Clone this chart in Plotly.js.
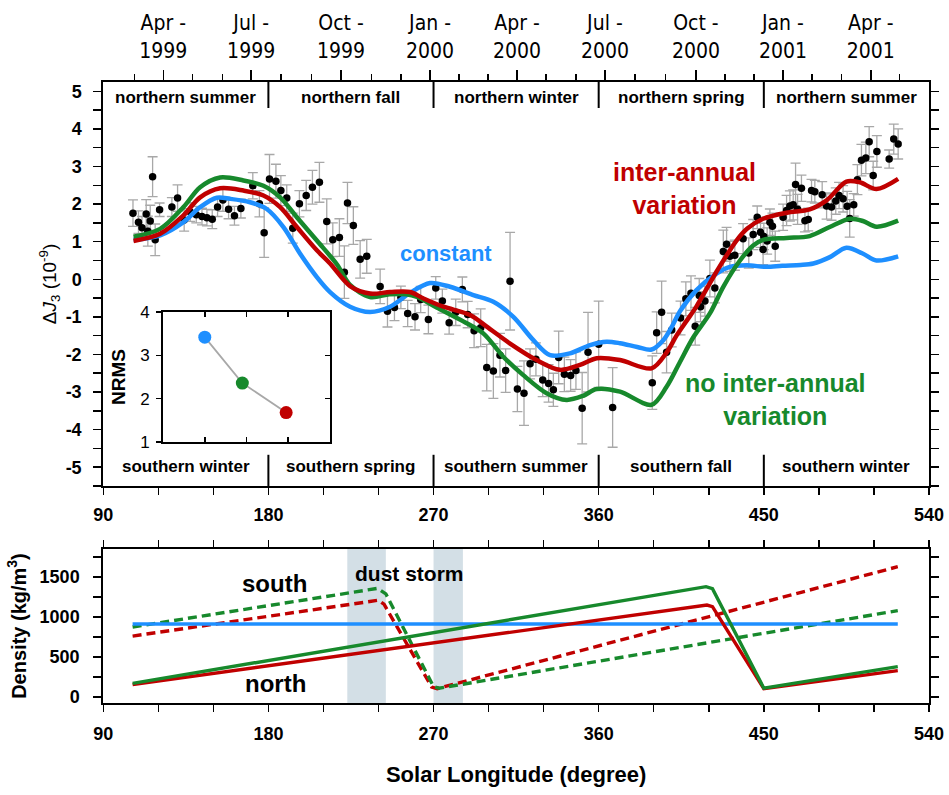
<!DOCTYPE html>
<html><head><meta charset="utf-8">
<script src="https://cdn.plot.ly/plotly-3.0.1.min.js"></script>
<style>html,body{margin:0;padding:0;background:#fff}</style>
</head><body><div id="chart" style="width:949px;height:795px"></div>
<script>
// ---------- DATA ----------
// Observed ΔJ3 (1e-9) vs solar longitude
const LS_OBS = [106.2,109.2,111.1,113.4,114.3,115.6,116.9,118.3,120.7,127.4,130.5,134.1,137.4,140.7,143.8,146.5,149.4,152.3,155.2,158.3,161.5,165.0,171.5,175.1,177.7,180.6,184.1,186.8,190.0,193.3,196.9,200.6,204.0,207.8,211.8,215.1,218.7,221.4,223.1,226.3,230.0,233.6,240.9,244.9,248.7,252.2,255.9,259.9,263.0,267.2,271.2,274.8,278.5,282.1,285.7,288.6,292.1,295.7,299.0,302.6,306.2,309.3,311.7,315.7,319.3,322.6,325.8,329.5,332.7,335.3,338.2,341.3,344.7,347.6,351.0,354.2,360.0,367.6,389.2,391.6,394.3,397.0,399.8,404.6,407.5,410.3,412.6,414.8,415.5,417.9,420.6,423.3,427.9,429.7,431.5,434.2,438.7,441.8,444.2,446.4,448.2,449.6,450.0,451.8,453.3,454.7,456.2,460.5,462.4,464.2,466.0,467.3,468.4,470.5,472.4,474.2,476.0,477.8,481.8,484.2,486.9,489.2,491.0,493.2,495.4,496.8,499.0,501.0,503.2,505.6,507.4,509.6,511.6,518.3,520.8,523.2];
const J3_OBS = [1.76,1.52,1.37,1.74,1.28,1.55,2.73,1.05,1.85,1.92,2.16,1.58,1.79,1.72,1.67,1.64,1.60,1.92,2.11,1.86,1.69,1.88,2.49,2.01,1.24,2.67,2.61,2.36,2.16,1.36,2.01,2.23,2.45,2.58,1.54,1.05,1.11,0.19,2.03,1.43,0.53,0.61,-0.19,-0.85,-0.75,-0.48,-0.91,-1.00,-0.54,-1.07,-0.23,-0.58,-1.16,-0.88,-0.27,-0.94,-1.37,-1.29,-2.35,-2.44,-2.02,-2.43,-0.05,-2.92,-3.03,-2.25,-2.13,-2.68,-2.77,-2.94,-2.08,-2.53,-2.56,-2.43,-3.43,-1.94,-1.73,-3.41,-2.75,-1.42,-0.88,-1.94,-1.35,-1.03,-0.52,-0.37,-1.25,-0.43,-0.73,-0.58,0.02,-0.23,0.74,0.93,0.61,0.64,1.08,0.70,1.19,1.65,1.25,0.79,1.14,1.02,1.52,1.41,0.88,1.65,1.83,1.95,1.98,2.52,1.86,2.42,1.56,1.59,2.36,2.33,2.25,1.95,1.92,2.08,2.23,2.14,1.94,1.62,1.98,2.65,3.17,3.23,3.66,2.76,3.40,3.20,3.73,3.60];
const J3_ERR = [0.35,0.30,0.30,0.38,0.40,0.42,0.53,0.42,0.18,0.25,0.35,0.30,0.25,0.22,0.22,0.22,0.25,0.25,0.30,0.25,0.25,0.25,0.35,0.35,0.66,0.65,0.45,0.40,0.35,0.40,0.35,0.40,0.45,0.53,0.60,0.45,0.50,0.70,0.55,0.50,0.50,0.45,0.46,0.42,0.35,0.30,0.35,0.35,0.35,0.38,0.30,0.32,0.30,0.35,0.33,0.35,0.45,0.50,0.62,0.73,0.58,0.58,1.30,0.60,0.86,0.40,0.44,0.44,0.50,0.44,0.70,0.46,0.42,0.50,0.95,1.06,1.15,1.06,0.71,0.55,0.83,0.55,0.45,0.45,0.45,0.46,0.50,0.45,0.40,0.40,0.49,0.40,0.57,0.45,0.40,0.40,0.40,0.40,0.40,0.30,0.40,0.40,0.35,0.35,0.35,0.35,0.40,0.35,0.40,0.40,0.40,0.57,0.40,0.35,0.30,0.30,0.30,0.30,0.35,0.35,0.35,0.35,0.35,0.35,0.40,0.50,0.30,0.40,0.42,0.42,0.40,0.38,0.42,0.24,0.40,0.40];

// Model curves
const LS_CONST = [106.5,121,133.7,142.8,151.9,159.2,170,179.1,188.2,197.3,206.4,213.6,224.5,235.4,246.3,257.2,268.1,279,291.7,302.6,313.5,324.4,333.5,344.4,355.3,364.3,371.6,381,388.8,395.2,400,404.3,413.3,424.2,431.5,440.6,451.5,460,470,477,486,495,504.1,511.4,523.2];
const J3_CONST = [1.05,1.17,1.52,1.92,2.17,2.14,2.05,1.87,1.39,0.68,0.06,-0.34,-0.73,-0.87,-0.73,-0.36,-0.10,-0.20,-0.42,-0.60,-1.00,-1.62,-2.02,-1.97,-1.75,-1.66,-1.70,-1.80,-1.87,-1.62,-1.25,-0.85,-0.29,0.15,0.33,0.37,0.33,0.36,0.38,0.42,0.59,0.84,0.68,0.50,0.61];
const LS_INTER = [106.5,121,133.7,142.8,153.7,166.4,177.3,186.4,195.5,206.4,213.6,224.5,235.4,246.3,257.2,264.5,275.4,289.9,299,311.7,326.2,338.9,349.8,358.9,371.6,388.8,397,402.4,408,413.3,424.2,435.1,441,449.6,462.4,475,484.2,495,502.3,511.4,523.2];
const J3_INTER = [1.02,1.21,1.70,2.18,2.42,2.36,2.23,1.92,1.39,0.77,0.42,-0.18,-0.38,-0.34,-0.34,-0.51,-0.73,-0.95,-1.26,-1.71,-2.15,-2.41,-2.28,-2.10,-2.15,-2.37,-1.95,-1.50,-1.10,-0.72,0.20,1.03,1.35,1.61,1.77,1.86,2.10,2.60,2.58,2.40,2.67];
const LS_NOINTER = [106.5,121,133.7,142.8,153.7,166.4,177.3,186.4,195.5,206.4,217.3,224.5,235.4,246,255,261,271.7,286.2,297.1,308,318.9,331.6,342.5,351.6,358.9,371.6,388.8,397,404.3,411.5,420.6,427.9,437,444.2,449.6,462.4,475,485.9,496.8,504,511.4,523.2];
const J3_NOINTER = [1.13,1.34,1.92,2.45,2.71,2.63,2.49,2.18,1.65,1.03,0.40,-0.15,-0.47,-0.40,-0.40,-0.47,-0.75,-1.12,-1.44,-2.06,-2.55,-3.03,-3.21,-3.10,-2.92,-2.99,-3.34,-2.86,-2.20,-1.55,-0.91,-0.20,0.50,0.90,1.05,1.10,1.15,1.39,1.61,1.55,1.40,1.56];

// Inset NRMS
const NRMS_X = [1, 1.9, 2.95];
const NRMS_Y = [3.42, 2.36, 1.68];

// Density models (kg/m^3)
const LS_DENS_CONST = [106, 523];
const DENS_CONST = [912, 912];
const LS_NORTH_INTER = [106, 416, 419, 422, 450, 523];
const DENS_NORTH_INTER = [155, 1140, 1150, 1130, 105, 330];
const LS_NORTH_NOINTER = [106, 415, 418.5, 422, 450, 523];
const DENS_NORTH_NOINTER = [170, 1365, 1380, 1355, 110, 380];
const LS_SOUTH_INTER = [106, 236, 240, 243, 269, 272, 523];
const DENS_SOUTH_INTER = [762, 1205, 1210, 1160, 125, 105, 1629];
const LS_SOUTH_NOINTER = [106, 237, 239.5, 244, 270, 273, 523];
const DENS_SOUTH_NOINTER = [875, 1350, 1358, 1290, 130, 110, 1080];
const DUST_STORMS = [[223, 244], [270, 286]];

// Tick labels
const LS_TICKS = [90, 180, 270, 360, 450, 540];
const J3_TICKS = [-5,-4,-3,-2,-1,0,1,2,3,4,5];
const J3_TICKTEXT = ['-5','-4','-3','-2','-1','0','1','2','3','4','5'];
const DENS_TICKS = [0, 500, 1000, 1500];
const NRMS_TICKS = [1, 2, 3, 4];
const DATE_LS = [122.7,170.6,219.6,268.1,315.5,363.4,413.0,460.4,508.3];
const DATE_LABELS = ['Apr -<br>1999','Jul -<br>1999','Oct -<br>1999','Jan -<br>2000','Apr -<br>2000','Jul -<br>2000','Oct -<br>2000','Jan -<br>2001','Apr -<br>2001'];
const DATE_MINOR_LS = [106.9,138.5,154.8,186.9,203.3,236.0,252.3,283.9,299.7,331.3,347.6,379.8,396.6,428.8,444.6,476.2,492.5,524.1];
const SEASON_BOUNDS = [180, 270, 360, 450];
const SEASON_CENTERS = [135, 225, 315, 405, 495];
const NORTH_SEASONS = ['northern summer','northern fall','northern winter','northern spring','northern summer'];
const SOUTH_SEASONS = ['southern winter','southern spring','southern summer','southern fall','southern winter'];

// ---------- STYLE ----------
const BLUE = '#1e8fff', RED = '#c00000', GREEN = '#17892c';
const FONT = 'Liberation Sans, Arial, Helvetica, sans-serif';
const NARROW = 'Liberation Sans Narrow, Arial Narrow, DejaVu Sans Condensed, sans-serif';
const XD = [0.1088, 0.9789];
const YD_TOP = [0.3887, 0.8969];
const YD_BOT = [0.1157, 0.3094];

const traces = [];
// observations
traces.push({x: LS_OBS, y: J3_OBS, type:'scatter', mode:'markers', xaxis:'x', yaxis:'y',
  marker:{color:'black', size:7.5},
  error_y:{type:'data', array:J3_ERR, visible:true, color:'#a8a8a8', thickness:1.3, width:5}});
// model curves
[[LS_CONST,J3_CONST,BLUE],[LS_NOINTER,J3_NOINTER,GREEN],[LS_INTER,J3_INTER,RED]].forEach(([x,y,c])=>{
  traces.push({x:x, y:y, type:'scatter', mode:'lines', xaxis:'x', yaxis:'y',
    line:{color:c, width:4.5, shape:'spline', smoothing:0.9}});
});
// dummy for top date axis
traces.push({x:[], y:[], type:'scatter', xaxis:'x4', yaxis:'y', hoverinfo:'skip'});

// density panel
const dens = [
  [LS_SOUTH_INTER, DENS_SOUTH_INTER, RED, 'dash'],
  [LS_SOUTH_NOINTER, DENS_SOUTH_NOINTER, GREEN, 'dash'],
  [LS_DENS_CONST, DENS_CONST, BLUE, 'solid'],
  [LS_NORTH_INTER, DENS_NORTH_INTER, RED, 'solid'],
  [LS_NORTH_NOINTER, DENS_NORTH_NOINTER, GREEN, 'solid']
];
dens.forEach(([x,y,c,d])=>{
  traces.push({x:x, y:y, type:'scatter', mode:'lines', xaxis:'x2', yaxis:'y2',
    line:{color:c, width:3.4, dash: d==='dash' ? '9px,5px' : 'solid'}});
});

// inset
traces.push({x:NRMS_X, y:NRMS_Y, type:'scatter', mode:'lines', xaxis:'x3', yaxis:'y3',
  line:{color:'#a8a8a8', width:1.8}});
traces.push({x:NRMS_X, y:NRMS_Y, type:'scatter', mode:'markers', xaxis:'x3', yaxis:'y3',
  marker:{color:[BLUE, GREEN, RED], size:13}});
traces.push({x:[], y:[], type:'scatter', xaxis:'x3', yaxis:'y5', hoverinfo:'skip'});

const axBase = {showline:true, linecolor:'black', linewidth:2, showgrid:false, zeroline:false,
  tickcolor:'black', tickwidth:1.5};

const shapes = [];
DUST_STORMS.forEach(([a,b])=>{
  shapes.push({type:'rect', xref:'x2', yref:'y2 domain', x0:a, x1:b, y0:0, y1:1,
    fillcolor:'#d3dfe6', line:{width:0}, layer:'below'});
});
SEASON_BOUNDS.forEach(b=>{
  shapes.push({type:'line', xref:'x', yref:'y', x0:b, x1:b, y0:4.56, y1:5.25, line:{color:'black', width:2}});
  shapes.push({type:'line', xref:'x', yref:'y', x0:b, x1:b, y0:-4.67, y1:-5.5, line:{color:'black', width:2}});
});

const annotations = [];
SEASON_CENTERS.forEach((c,i)=>{
  annotations.push({x:c, y:4.83, xref:'x', yref:'y', text:NORTH_SEASONS[i], showarrow:false,
    font:{family:FONT, size:17, weight:'bold', color:'black'}});
  annotations.push({x:c, y:-4.99, xref:'x', yref:'y', text:SOUTH_SEASONS[i], showarrow:false,
    font:{family:FONT, size:17, weight:'bold', color:'black'}});
});
annotations.push({x:276.8, y:0.69, xref:'x', yref:'y', text:'constant', showarrow:false,
  font:{family:FONT, size:22, weight:'bold', color:BLUE}});
annotations.push({x:407, y:2.41, xref:'x', yref:'y', text:'inter-annual<br>variation', showarrow:false,
  font:{family:FONT, size:25, weight:'bold', color:RED}});
annotations.push({x:456.6, y:-3.21, xref:'x', yref:'y', text:'no inter-annual<br>variation', showarrow:false,
  font:{family:FONT, size:25, weight:'bold', color:GREEN}});
annotations.push({x:183.4, y:1425, xref:'x2', yref:'y2', text:'south', showarrow:false,
  font:{family:FONT, size:24, weight:'bold', color:'black'}});
annotations.push({x:184, y:175, xref:'x2', yref:'y2', text:'north', showarrow:false,
  font:{family:FONT, size:24, weight:'bold', color:'black'}});
annotations.push({x:257.1, y:1550, xref:'x2', yref:'y2', text:'dust storm', showarrow:false,
  font:{family:FONT, size:21, weight:'bold', color:'black'}});

const bold18 = {family:FONT, size:18, weight:'bold', color:'black'};

const layout = {
  width:949, height:795, margin:{l:0,r:0,t:0,b:0},
  paper_bgcolor:'white', plot_bgcolor:'rgba(0,0,0,0)', showlegend:false,
  font:{family:FONT, color:'black'},
  xaxis: Object.assign({}, axBase, {domain:XD, anchor:'y', range:[90,540], tickmode:'array', tickvals:LS_TICKS,
    ticks:'outside', ticklen:7, tickfont:bold18, ticklabelstandoff:4,
    minor:{tickmode:'linear', tick0:90, dtick:30, ticks:'outside', ticklen:7, tickwidth:1.5, tickcolor:'black', showgrid:false}}),
  xaxis4: Object.assign({}, axBase, {overlaying:'x', side:'top', anchor:'y', range:[90,540], tickmode:'array',
    tickvals:DATE_LS, ticktext:DATE_LABELS, ticks:'outside', ticklen:10, tickfont:{family:NARROW, size:21, color:'black'},
    ticklabelstandoff:4,
    minor:{tickmode:'array', tickvals:DATE_MINOR_LS, ticks:'outside', ticklen:6, tickwidth:1.3, tickcolor:'black', showgrid:false}}),
  yaxis: Object.assign({}, axBase, {domain:YD_TOP, anchor:'x', range:[-5.5,5.25], tickmode:'array', tickvals:J3_TICKS,
    ticktext:J3_TICKTEXT, ticks:'outside', ticklen:8, mirror:'ticks', tickfont:bold18, ticklabelstandoff:8,
    minor:{tickmode:'linear', tick0:-5.5, dtick:0.5, ticks:'outside', ticklen:8, tickwidth:1.5, tickcolor:'black', showgrid:false},
    title:{text:'Δ<i>J</i><sub>3</sub> (10<sup>-9</sup>)', font:{family:FONT, size:19, color:'black'}, standoff:4}}),
  xaxis2: Object.assign({}, axBase, {domain:XD, anchor:'y2', range:[90,540], tickmode:'array', tickvals:LS_TICKS,
    ticks:'outside', ticklen:7, mirror:'ticks', tickfont:bold18, ticklabelstandoff:6,
    minor:{tickmode:'linear', tick0:90, dtick:30, ticks:'outside', ticklen:7, tickwidth:1.5, tickcolor:'black', showgrid:false},
    title:{text:'Solar Longitude (degree)', font:{family:FONT, size:22, weight:'bold', color:'black'}, standoff:24}}),
  yaxis2: Object.assign({}, axBase, {domain:YD_BOT, anchor:'x2', range:[-75,1850], tickmode:'array', tickvals:DENS_TICKS,
    ticks:'outside', ticklen:8, mirror:'ticks', tickfont:bold18, ticklabelstandoff:10,
    minor:{tickmode:'linear', tick0:0, dtick:250, ticks:'outside', ticklen:8, tickwidth:1.5, tickcolor:'black', showgrid:false},
    title:{text:'Density (kg/m<sup>3</sup>)', font:{family:FONT, size:20, weight:'bold', color:'black'}, standoff:8}}),
  xaxis3: Object.assign({}, axBase, {domain:[0.1718,0.3477], anchor:'y3', range:[0,4], tickmode:'array', tickvals:[1,2,3],
    ticks:'inside', ticklen:5, mirror:'ticks', showticklabels:false}),
  yaxis3: Object.assign({}, axBase, {domain:[0.4440,0.6075], anchor:'x3', range:[1,4], tickmode:'array', tickvals:NRMS_TICKS,
    ticks:'outside', ticklen:5, tickfont:{family:FONT, size:17, color:'black'}, ticklabelstandoff:3,
    title:{text:'NRMS', font:{family:FONT, size:19, weight:'bold', color:'black'}, standoff:10}}),
  yaxis5: {overlaying:'y3', side:'right', anchor:'x3', range:[1,4], tickmode:'array', tickvals:[2,3],
    ticks:'inside', ticklen:5, tickcolor:'black', tickwidth:1.5, showticklabels:false, showline:true, linecolor:'black', linewidth:2,
    showgrid:false, zeroline:false},
  shapes: shapes,
  annotations: annotations
};

Plotly.newPlot('chart', traces, layout, {displayModeBar:false, staticPlot:true});
</script></body></html>
